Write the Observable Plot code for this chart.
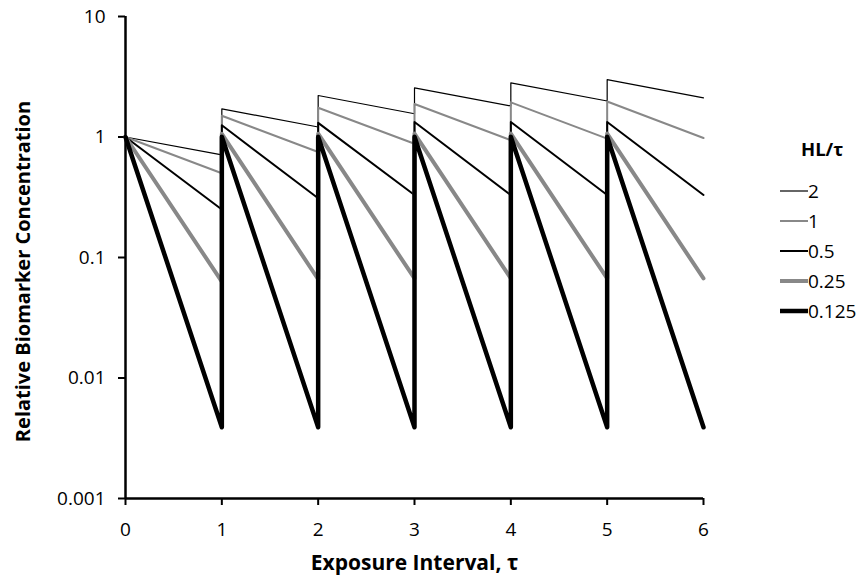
<!DOCTYPE html>
<html>
<head>
<meta charset="utf-8">
<script src="https://cdn.jsdelivr.net/npm/d3@7"></script>
<script src="https://cdn.jsdelivr.net/npm/@observablehq/plot@0.6"></script>
<style>
  html, body { margin: 0; padding: 0; background: #fff; }
  #wrap { position: relative; width: 859px; height: 579px; font-family: "Open Sans", sans-serif; }
  #legend { position: absolute; left: 780px; top: 122px; color: #000; font-size: 19px; }
  #legend .title { font-weight: bold; margin-left: 21px; height: 54px; line-height: 54px; font-size: 18.5px; }
  #legend .row { display: flex; align-items: center; height: 30px; }
  #legend svg { width: 28px; height: 10px; display: block; }
</style>
</head>
<body>
<div id="wrap"></div>
<script>
// Exposure-interval times (vertical jump at each dose)
const times = [0, 1, 1, 2, 2, 3, 3, 4, 4, 5, 5, 6];
// Series labels (HL/τ)
const seriesLabels = ["2", "1", "0.5", "0.25", "0.125"];
// Values for each series
const conc_2     = [1, 0.71, 1.71, 1.21, 2.21, 1.56, 2.56, 1.81, 2.81, 1.99, 2.99, 2.11];
const conc_1     = [1, 0.5, 1.5, 0.75, 1.75, 0.88, 1.88, 0.94, 1.94, 0.97, 1.97, 0.98];
const conc_05    = [1, 0.25, 1.25, 0.31, 1.31, 0.33, 1.33, 0.33, 1.33, 0.33, 1.33, 0.33];
const conc_025   = [1, 0.063, 1.063, 0.066, 1.066, 0.067, 1.067, 0.067, 1.067, 0.067, 1.067, 0.067];
const conc_0125  = [1, 0.0039, 1.0039, 0.0039, 1.0039, 0.0039, 1.0039, 0.0039, 1.0039, 0.0039, 1.0039, 0.0039];
// Axis ticks
const xTicks = [0, 1, 2, 3, 4, 5, 6];
const yTicks = [0.001, 0.01, 0.1, 1, 10];
const xTitle = "Exposure Interval, τ";
const yTitle = "Relative Biomarker Concentration";
const legendTitle = "HL/τ";

const seriesValues = [conc_2, conc_1, conc_05, conc_025, conc_0125];
const styles = [
  {stroke: "#000", strokeWidth: 1.2},
  {stroke: "#888", strokeWidth: 2},
  {stroke: "#000", strokeWidth: 2},
  {stroke: "#888", strokeWidth: 4},
  {stroke: "#000", strokeWidth: 4.5}
];

const lineMarks = seriesValues.map((vals, i) =>
  Plot.line(times.map((t, j) => ({t, v: vals[j]})), {
    x: "t", y: "v", stroke: styles[i].stroke, strokeWidth: styles[i].strokeWidth,
    strokeLinecap: "round", strokeLinejoin: "round"
  })
);

const chart = Plot.plot({
  width: 859,
  height: 579,
  marginLeft: 125,
  marginRight: 156,
  marginTop: 16,
  marginBottom: 81,
  style: {fontFamily: "Open Sans, sans-serif", fontSize: "19px", color: "#000", background: "#fff", overflow: "visible"},
  x: {domain: [0, 6]},
  y: {type: "log", domain: [0.001, 10]},
  marks: [
    Plot.axisX({ticks: xTicks, tickFormat: () => "", tickSize: 7, strokeWidth: 2, label: null}),
    Plot.axisY({ticks: yTicks, tickFormat: () => "", tickSize: 7, strokeWidth: 2, label: null}),
    Plot.text(xTicks, {x: d => d, frameAnchor: "bottom", dy: 31, lineAnchor: "middle", textAnchor: "middle", fontSize: "19px", text: d => String(d)}),
    Plot.text(yTicks, {y: d => d, frameAnchor: "left", dx: -20, lineAnchor: "middle", textAnchor: "end", fontSize: "19px", text: d => String(d)}),
    Plot.ruleX([0], {strokeWidth: 2.5}),
    Plot.ruleY([0.001], {strokeWidth: 2.5}),
    ...lineMarks,
    Plot.text([xTitle], {frameAnchor: "bottom", dy: 65, lineAnchor: "middle", fontWeight: "bold", fontSize: 21, text: d => d}),
    Plot.text([yTitle], {frameAnchor: "left", dx: -102, dy: 14, rotate: -90, textAnchor: "middle", lineAnchor: "middle", fontWeight: "bold", fontSize: 20, text: d => d})
  ]
});

const wrap = document.getElementById("wrap");
wrap.appendChild(chart);
// enforce the tick-label size on every non-bold text of the chart
chart.querySelectorAll("text").forEach(t => {
  const w = parseInt(getComputedStyle(t).fontWeight, 10);
  if (!(w >= 600)) t.style.fontSize = "19px";
});

// Legend
const legend = document.createElement("div");
legend.id = "legend";
const lt = document.createElement("div");
lt.className = "title";
lt.textContent = legendTitle;
legend.appendChild(lt);
seriesLabels.forEach((lab, i) => {
  const row = document.createElement("div");
  row.className = "row";
  const svg = document.createElementNS("http://www.w3.org/2000/svg", "svg");
  svg.setAttribute("viewBox", "0 0 28 10");
  const ln = document.createElementNS("http://www.w3.org/2000/svg", "line");
  ln.setAttribute("x1", 0); ln.setAttribute("x2", 28);
  ln.setAttribute("y1", 5); ln.setAttribute("y2", 5);
  ln.setAttribute("stroke", styles[i].stroke);
  ln.setAttribute("stroke-width", styles[i].strokeWidth);
  svg.appendChild(ln);
  const span = document.createElement("span");
  span.textContent = lab;
  row.appendChild(svg);
  row.appendChild(span);
  legend.appendChild(row);
});
wrap.appendChild(legend);
</script>
</body>
</html>
